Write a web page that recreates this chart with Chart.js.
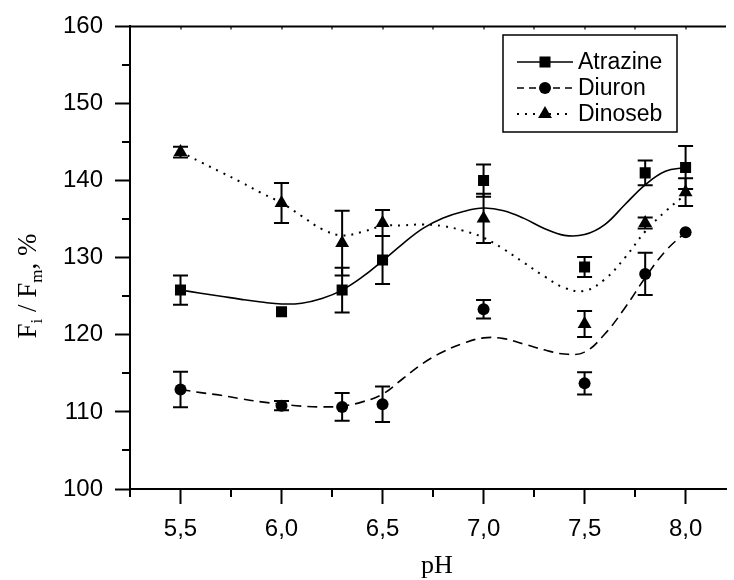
<!DOCTYPE html>
<html>
<head>
<meta charset="utf-8">
<script src="https://cdn.jsdelivr.net/npm/chart.js@4.4.1/dist/chart.umd.min.js"></script>
<style>
  html, body { margin: 0; padding: 0; background: #fff; }
  #wrap { width: 734px; height: 580px; position: relative; }
</style>
</head>
<body>
<div id="wrap"><canvas id="chart"></canvas></div>
<script>
// measured points
const phLevels = [5.5, 6.0, 6.3, 6.5, 7.0, 7.5, 7.8, 8.0];
const atrazine = [125.8, 123.0, 125.8, 129.7, 140.0, 128.8, 141.0, 141.7];
const atrazineErr = [1.9, 0, 2.9, 3.1, 2.1, 1.3, 1.6, 2.8];
const diuron = [112.9, 110.8, 110.65, 111.0, 123.3, 113.7, 127.9, 133.3];
const diuronErr = [2.3, 0.6, 1.8, 2.3, 1.2, 1.45, 2.75, 0];
const dinoseb = [143.7, 137.1, 131.9, 134.5, 135.1, 121.4, 134.5, 138.5];
const dinosebErr = [0.7, 2.6, 4.2, 1.7, 3.2, 1.7, 0.7, 1.8];

// fitted curves
const curvePH = [5.5, 5.6, 5.7, 5.8, 5.9, 6.0, 6.1, 6.2, 6.3, 6.4, 6.5, 6.6, 6.7,
                 6.8, 6.9, 7.0, 7.1, 7.2, 7.3, 7.4, 7.5, 7.6, 7.7, 7.8, 7.9, 8.0];
const atrazineFit = [125.8, 125.4, 125.0, 124.6, 124.25, 124.0, 124.1, 124.7, 125.8, 127.5, 129.6, 131.8, 133.8,
                     135.15, 136.0, 136.45, 136.1, 135.1, 133.8, 132.9, 133.0, 134.3, 136.9, 139.45, 141.2, 141.7];
const diuronFit = [112.9, 112.5, 112.15, 111.7, 111.3, 111.0, 110.75, 110.65, 110.75, 111.3, 112.3, 114.3, 116.3,
                   117.8, 118.9, 119.6, 119.5, 118.8, 118.05, 117.5, 117.75, 120.1, 123.5, 127.4, 130.85, 133.3];
const dinosebFit = [143.75, 142.4, 141.1, 139.8, 138.4, 137.1, 135.4, 133.7, 132.9, 133.35, 134.1, 134.2, 134.3,
                    134.1, 133.5, 132.6, 131.1, 129.35, 127.6, 126.1, 125.7, 127.2, 130.0, 133.4, 136.0, 138.2];

const xTicks = [5.5, 6.0, 6.5, 7.0, 7.5, 8.0];
const xMinorTicks = [5.25, 5.75, 6.25, 6.75, 7.25, 7.75];
const yMinorTicks = [105, 115, 125, 135, 145, 155];

const seriesNames = ['Atrazine', 'Diuron', 'Dinoseb'];
const markerStyles = ['rect', 'circle', 'triangle'];
const markerRadius = [7.8, 6, 8];
const lineDashes = [[], [10, 6], [2, 6]];
const lineWidths = [1.6, 1.6, 2];

const tickFont = { family: "'Liberation Sans', Arial, sans-serif", size: 24 };
const serif = "'Liberation Serif', 'Times New Roman', serif";

function pts(xs, ys) {
  return xs.map((x, i) => ({ x: x, y: ys[i] }));
}

const markerSets = [atrazine, diuron, dinoseb].map((vals, i) => ({
  type: 'scatter',
  label: seriesNames[i],
  data: pts(phLevels, vals),
  errors: [atrazineErr, diuronErr, dinosebErr][i],
  pointStyle: markerStyles[i],
  pointRadius: markerRadius[i],
  pointBackgroundColor: '#000',
  pointBorderColor: '#000',
  pointBorderWidth: 0,
  showLine: false
}));

const curveSets = [atrazineFit, diuronFit, dinosebFit].map((vals, i) => ({
  type: 'line',
  label: seriesNames[i] + ' fit',
  data: pts(curvePH, vals),
  borderColor: '#000',
  borderWidth: lineWidths[i],
  borderDash: lineDashes[i],
  pointRadius: 0,
  fill: false,
  tension: 0.4
}));

// vertical error bars with caps
const errorBars = {
  id: 'errorBars',
  afterDatasetsDraw(chart) {
    const ctx = chart.ctx, sx = chart.scales.x, sy = chart.scales.y;
    ctx.save();
    ctx.strokeStyle = '#000';
    ctx.lineWidth = 2;
    chart.data.datasets.forEach(ds => {
      if (!ds.errors) return;
      ds.data.forEach((p, i) => {
        const e = ds.errors[i];
        if (!e) return;
        const px = sx.getPixelForValue(p.x);
        const top = sy.getPixelForValue(p.y + e);
        const bot = sy.getPixelForValue(p.y - e);
        ctx.beginPath();
        ctx.moveTo(px, top); ctx.lineTo(px, bot);
        ctx.moveTo(px - 7.5, top); ctx.lineTo(px + 7.5, top);
        ctx.moveTo(px - 7.5, bot); ctx.lineTo(px + 7.5, bot);
        ctx.stroke();
      });
    });
    ctx.restore();
  }
};

// minor ticks, top border, axis titles and boxed legend
const frame = {
  id: 'frame',
  afterDraw(chart) {
    const ctx = chart.ctx, sx = chart.scales.x, sy = chart.scales.y;
    const area = chart.chartArea;
    ctx.save();
    ctx.strokeStyle = '#000';
    ctx.fillStyle = '#000';
    ctx.lineWidth = 2;

    ctx.beginPath();
    xMinorTicks.forEach(v => {
      const px = Math.round(sx.getPixelForValue(v));
      ctx.moveTo(px, area.bottom); ctx.lineTo(px, area.bottom + 8);
    });
    yMinorTicks.forEach(v => {
      const py = Math.round(sy.getPixelForValue(v));
      ctx.moveTo(area.left, py); ctx.lineTo(area.left - 8, py);
    });
    ctx.moveTo(area.left, area.top); ctx.lineTo(area.right, area.top);
    ctx.stroke();

    ctx.lineWidth = 1.2;
    ctx.beginPath();
    xTicks.concat(xMinorTicks).forEach(v => {
      const px = Math.round(sx.getPixelForValue(v));
      ctx.moveTo(px, area.top); ctx.lineTo(px, area.top + 3);
    });
    ctx.stroke();

    // x title
    ctx.font = '26px ' + serif;
    ctx.textAlign = 'center';
    ctx.textBaseline = 'alphabetic';
    ctx.fillText('pH', 437, 573);

    // y title with subscripts
    const big = '27px ' + serif, small = '17px ' + serif;
    const parts = [['F', big, 0], ['i', small, 6], [' / ', big, 0], ['F', big, 0], ['m', small, 6], [', %', big, 0]];
    let total = 0;
    parts.forEach(p => { ctx.font = p[1]; total += ctx.measureText(p[0]).width; });
    ctx.save();
    ctx.translate(36, 286 + total / 2);
    ctx.rotate(-Math.PI / 2);
    ctx.textAlign = 'left';
    let cx = 0;
    parts.forEach(p => {
      ctx.font = p[1];
      ctx.fillText(p[0], cx, p[2]);
      cx += ctx.measureText(p[0]).width;
    });
    ctx.restore();

    // legend
    ctx.lineWidth = 1.5;
    ctx.strokeRect(503, 35, 174, 97);
    const rows = [62, 88, 114];
    ctx.font = "23px 'Liberation Sans', Arial, sans-serif";
    ctx.textAlign = 'left';
    ctx.textBaseline = 'middle';
    rows.forEach((ry, i) => {
      ctx.save();
      ctx.lineWidth = lineWidths[i];
      ctx.setLineDash(i === 1 ? [7, 5] : lineDashes[i]);
      ctx.beginPath();
      ctx.moveTo(517, ry); ctx.lineTo(573, ry);
      ctx.stroke();
      ctx.restore();
      Chart.helpers.drawPoint(ctx, { pointStyle: markerStyles[i], radius: markerRadius[i], rotation: 0, borderWidth: 0 }, 545, ry);
      ctx.fillText(seriesNames[i], 578, ry + 1);
    });
    ctx.restore();
  }
};

new Chart(document.getElementById('chart'), {
  data: { datasets: markerSets.concat(curveSets) },
  options: {
    responsive: true,
    maintainAspectRatio: false,
    animation: false,
    events: [],
    layout: { padding: { top: 24, right: 0, bottom: 0, left: 0 } },
    plugins: {
      legend: { display: false },
      tooltip: { enabled: false },
      title: { display: false }
    },
    scales: {
      x: {
        type: 'linear',
        min: 5.25,
        max: 8.2,
        afterBuildTicks: scale => { scale.ticks = xTicks.map(v => ({ value: v })); },
        afterFit: scale => { scale.height = 91; },
        border: { color: '#000', width: 2 },
        grid: { drawOnChartArea: false, drawTicks: true, tickLength: 15, tickColor: '#000', tickWidth: 2 },
        ticks: {
          color: '#000',
          font: tickFont,
          padding: 11,
          maxRotation: 0,
          callback: v => v.toFixed(1).replace('.', ',')
        }
      },
      y: {
        type: 'linear',
        min: 100,
        max: 160,
        afterFit: scale => { scale.width = 130; },
        border: { color: '#000', width: 2 },
        grid: { drawOnChartArea: false, drawTicks: true, tickLength: 15, tickColor: '#000', tickWidth: 2 },
        ticks: {
          color: '#000',
          font: tickFont,
          padding: 12,
          stepSize: 10
        }
      }
    }
  },
  plugins: [errorBars, frame]
});
</script>
</body>
</html>
